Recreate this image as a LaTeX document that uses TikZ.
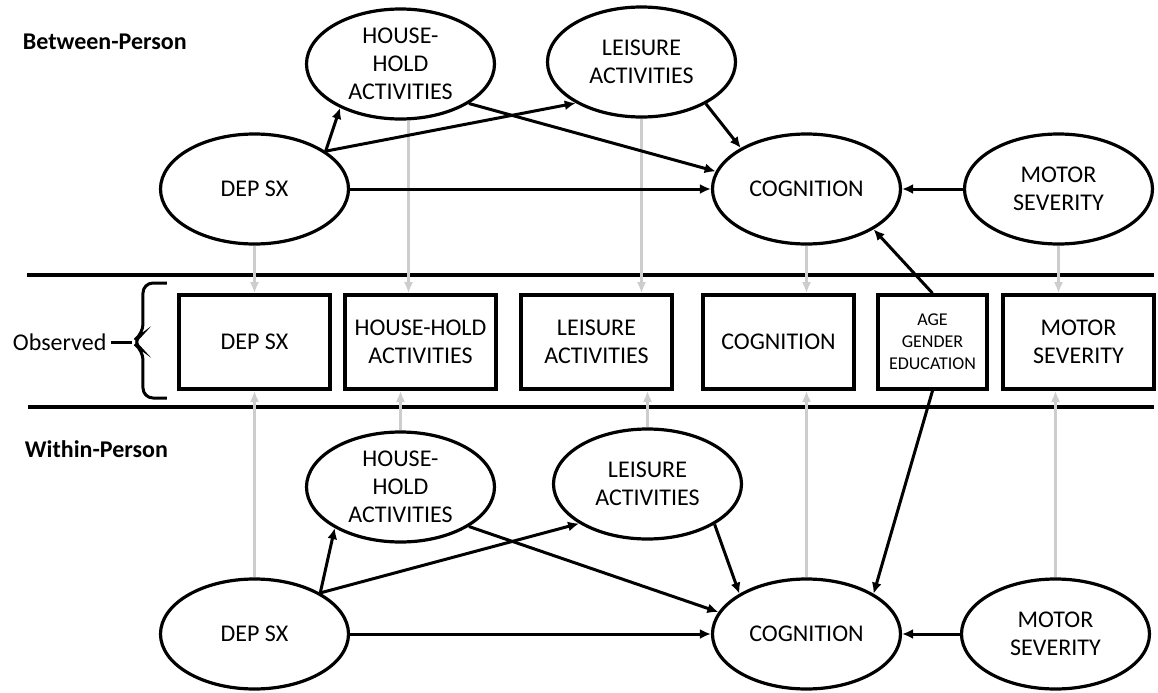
\documentclass[tikz,border=0pt]{standalone}
\usepackage{fontspec}
\setmainfont{Carlito}
\usepackage{tikz}
\usetikzlibrary{shapes,arrows.meta,positioning}
\definecolor{linkgray}{RGB}{205,205,205}
\newcommand{\nodetext}{\fontsize{12}{14}\selectfont}
\newcommand{\agetext}{\fontsize{9}{11}\selectfont}
\newcommand{\headtext}{\fontsize{12}{14}\selectfont\bfseries}
\tikzstyle{latent} = [ellipse, draw=black, line width=1.6pt, minimum width=94pt,
minimum height=55pt, inner sep=0pt, align=center, font=\nodetext]
\tikzstyle{obsbox} = [rectangle, draw=black, line width=1.8pt, minimum width=75.5pt,
minimum height=47pt, align=center, font=\nodetext]
\tikzstyle{agebox} = [obsbox, minimum width=54.5pt, font=\agetext]
\tikzstyle{heading} = [anchor=west, inner sep=0pt, font=\headtext]
\tikzstyle{sidelabel} = [anchor=west, inner sep=0pt, font=\nodetext]
\tikzstyle{sepline} = [line width=1.9pt]
\tikzstyle{bracket} = [line width=1.5pt, rounded corners=5pt]
\tikzstyle{effect} = [line width=1.5pt, -{Latex[length=5.5pt,width=5pt]}]
\tikzstyle{loadlink} = [draw=linkgray, line width=1.3pt, -{Latex[length=5.5pt,width=4.5pt]}]

\begin{document}
\begin{tikzpicture}[x=1pt, y=1pt, node distance=80pt]
		\useasboundingbox (-127.25,171) rectangle (451.75,-175);
		%observed boxes
		\node[obsbox](depO){DEP SX};
		\node[obsbox, right of=depO, xshift=3pt](hhO){HOUSE-HOLD\\ACTIVITIES};
		\node[obsbox, right of=hhO, xshift=8pt](leiO){LEISURE\\ACTIVITIES};
		\node[obsbox, right of=leiO, xshift=11pt](cogO){COGNITION};
		\node[agebox, right of=cogO, xshift=-3pt](ageO){AGE\\GENDER\\EDUCATION};
		\node[obsbox, right of=ageO, xshift=-7pt](motO){MOTOR\\SEVERITY};
		%between-person
		\node[latent, above of=depO, yshift=-3.5pt](depB){DEP SX};
		\node[latent, above of=hhO, xshift=-10pt, yshift=59pt](hhB){HOUSE-\\HOLD\\ACTIVITIES};
		\node[latent, above of=leiO, xshift=22.5pt, yshift=60pt](leiB){LEISURE\\ACTIVITIES};
		\node[latent, above of=cogO, xshift=14pt, yshift=-3.5pt](cogB){COGNITION};
		\node[latent, above of=motO, xshift=-10pt, yshift=-3.5pt](motB){MOTOR\\SEVERITY};
		%within-person
		\node[latent, below of=depO, yshift=-66pt](depW){DEP SX};
		\node[latent, below of=hhO, xshift=-10pt, yshift=7.5pt](hhW){HOUSE-\\HOLD\\ACTIVITIES};
		\node[latent, below of=leiO, xshift=25.5pt, yshift=9pt](leiW){LEISURE\\ACTIVITIES};
		\node[latent, below of=cogO, xshift=14pt, yshift=-66pt](cogW){COGNITION};
		\node[latent, below of=motO, xshift=-11.5pt, yshift=-66pt](motW){MOTOR\\SEVERITY};
		%labels
		\node[heading](betweenLbl) at (-116,150){Between-Person};
		\node[heading](withinLbl) at (-115,-53.5){Within-Person};
		\node[sidelabel](observedLbl) at (-121,0){Observed};
		
		%separators and brace
		\draw[sepline](-113.75,33.5)--(449.75,33.5);
		\draw[sepline](-113.25,-32.5)--(449.75,-32.5);
		\coordinate (braceTip) at (-61.25,0);
		\draw[bracket](-43.75,29.5)--(-55.75,29.5)--(-55.75,4)--(braceTip)--(-55.75,-4)--(-55.75,-28)--(-43.75,-28);
		\draw[line width=1.5pt]([xshift=2pt]observedLbl.east)--(braceTip);
		
		%gray links
		\draw[loadlink](depB.south)--(depB.south |- depO.north);
		\draw[loadlink]([xshift=4pt]hhB.south)--([xshift=4pt]hhB.south |- hhO.north);
		\draw[loadlink](leiB.south)--(leiB.south |- leiO.north);
		\draw[loadlink](cogB.south)--(cogB.south |- cogO.north);
		\draw[loadlink](motB.south)--(motB.south |- motO.north);
		\draw[loadlink](depW.north)--(depW.north |- depO.south);
		\draw[loadlink](hhW.north)--(hhW.north |- hhO.south);
		\draw[loadlink](leiW.north)--(leiW.north |- leiO.south);
		\draw[loadlink](cogW.north)--(cogW.north |- cogO.south);
		\draw[loadlink](motW.north)--(motW.north |- motO.south);
		
		%arrows between
		\draw[effect](depB.28)--(hhB.216);
		\draw[effect](depB.28)--(leiB.212);
		\draw[effect](depB)--(cogB);
		\draw[effect](hhB.-30)--(cogB.169);
		\draw[effect](leiB.-33)--(cogB.148);
		\draw[effect](motB)--(cogB);
		\draw[effect](ageO.north)--(cogB.-31);
		%arrows within
		\draw[effect](depW.32)--(hhW.212);
		\draw[effect](depW.32)--(leiW.210);
		\draw[effect](depW)--(cogW);
		\draw[effect](hhW.-30)--(cogW.166);
		\draw[effect](leiW.-31)--(cogW.149);
		\draw[effect](motW)--(cogW);
		\draw[effect](ageO.south)--(cogW.31);
	\end{tikzpicture}
\end{document}
